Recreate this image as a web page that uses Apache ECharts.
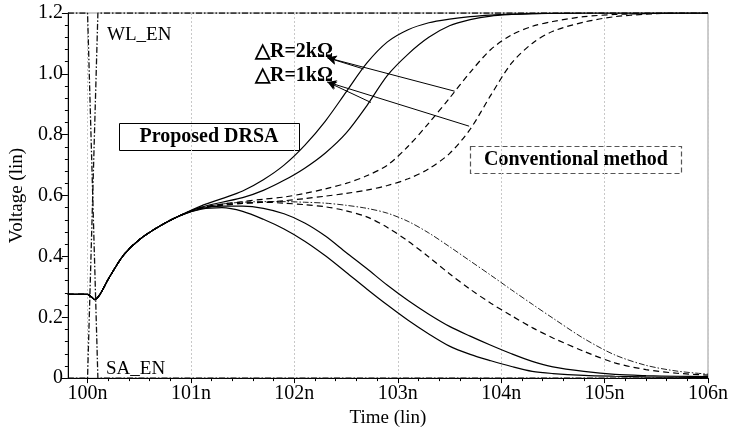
<!DOCTYPE html>
<html>
<head>
<meta charset="utf-8">
<script src="https://cdn.jsdelivr.net/npm/echarts@6/dist/echarts.min.js"></script>
<style>
  html, body { margin: 0; padding: 0; background: #fff; }
  #chart { width: 731px; height: 433px; }
</style>
</head>
<body>
<div id="chart"></div>
<script>
// time axis (ns) - shared part before the bitlines split
var commonT = [99.81, 100.0, 100.04, 100.07, 100.12, 100.2, 100.35, 100.5, 100.7, 100.9];
var commonV = [0.275, 0.275, 0.266, 0.258, 0.275, 0.325, 0.405, 0.455, 0.50, 0.535];

// after the split
var splitT = [101.1, 101.3, 101.5, 101.7, 101.9, 102.1, 102.3, 102.5, 102.7, 102.9, 103.1, 103.3,
  103.5, 103.7, 103.9, 104.1, 104.3, 104.5, 104.8, 105.1, 105.4, 105.7, 106.0];

// proposed DRSA (solid)
var drsaHigh2k = [0.566, 0.59, 0.615, 0.652, 0.70, 0.765, 0.845, 0.94, 1.035, 1.105, 1.145, 1.168, 1.18, 1.188, 1.193, 1.196, 1.198, 1.199, 1.2, 1.2, 1.2, 1.2, 1.2];
var drsaHigh1k = [0.562, 0.578, 0.593, 0.617, 0.65, 0.69, 0.74, 0.805, 0.895, 0.995, 1.065, 1.12, 1.158, 1.178, 1.19, 1.195, 1.198, 1.199, 1.2, 1.2, 1.2, 1.2, 1.2];
var drsaLow2k = [0.555, 0.56, 0.548, 0.522, 0.49, 0.45, 0.402, 0.348, 0.293, 0.24, 0.19, 0.145, 0.105, 0.078, 0.057, 0.038, 0.022, 0.015, 0.009, 0.006, 0.004, 0.003, 0.002];
var drsaLow1k = [0.557, 0.565, 0.565, 0.558, 0.54, 0.51, 0.467, 0.413, 0.36, 0.305, 0.255, 0.21, 0.17, 0.138, 0.108, 0.08, 0.055, 0.037, 0.022, 0.012, 0.008, 0.006, 0.005];

// conventional method (dashed / dash-dot)
var convHigh2k = [0.56, 0.572, 0.58, 0.588, 0.595, 0.607, 0.622, 0.64, 0.665, 0.70, 0.762, 0.838, 0.92, 1.005, 1.08, 1.128, 1.156, 1.172, 1.188, 1.195, 1.198, 1.2, 1.2];
var convHigh1k = [0.559, 0.568, 0.574, 0.578, 0.583, 0.59, 0.598, 0.607, 0.618, 0.633, 0.655, 0.688, 0.738, 0.818, 0.93, 1.035, 1.10, 1.14, 1.17, 1.188, 1.196, 1.2, 1.2];
var convLow2k = [0.559, 0.57, 0.575, 0.578, 0.575, 0.57, 0.563, 0.55, 0.53, 0.495, 0.45, 0.398, 0.343, 0.292, 0.246, 0.205, 0.166, 0.132, 0.088, 0.05, 0.028, 0.016, 0.01];
var convLow1k = [0.559, 0.572, 0.578, 0.58, 0.58, 0.578, 0.575, 0.568, 0.558, 0.542, 0.515, 0.477, 0.432, 0.385, 0.338, 0.29, 0.243, 0.197, 0.13, 0.076, 0.042, 0.023, 0.013];

// enable signals
var enableT = [99.81, 100.0, 100.1, 106.0];
var wlEn = [1.2, 1.2, 0, 0];
var saEn = [0, 0, 1.2, 1.2];

// ticks
var timeTicks = [100, 101, 102, 103, 104, 105, 106];

var minorTimeTicks = [];
for (var i = 0; i < timeTicks.length - 1; i++) {
  for (var k = 1; k < 5; k++) minorTimeTicks.push(+(timeTicks[i] + k * 0.2).toFixed(1));
}

function zip(ts, vs) {
  return ts.map(function (t, j) { return [t, vs[j]]; });
}
function bitline(vals) {
  return zip(commonT.concat(splitT), commonV.concat(vals));
}

var serif = '"Liberation Serif", "Times New Roman", serif';
var solid = { color: '#000', width: 1.2, type: 'solid' };
var dashed = { color: '#000', width: 1.2, type: [6, 4] };
var dashDot = { color: '#222', width: 1, type: [6, 2, 1.5, 2] };
var enableStyle = { color: '#111', width: 1.3, type: [6, 2, 1.5, 2] };

function curve(name, vals, style, extra) {
  var s = {
    name: name, type: 'line', data: bitline(vals), showSymbol: false, symbol: 'none',
    smooth: 0.3, lineStyle: style, silent: true, animation: false
  };
  if (extra) for (var key in extra) s[key] = extra[key];
  return s;
}

var arrowLines = {
  silent: true, symbol: ['none', 'arrow'], symbolSize: [7, 9],
  lineStyle: { color: '#000', width: 1, type: 'solid' },
  label: { show: false },
  data: [
    [{ coord: [103.55, 0.943] }, { coord: [102.32, 1.053] }],
    [{ coord: [102.67, 1.016] }, { coord: [102.32, 1.053] }],
    [{ coord: [103.69, 0.828] }, { coord: [102.32, 0.973] }],
    [{ coord: [102.74, 0.906] }, { coord: [102.32, 0.973] }]
  ]
};

var chart = echarts.init(document.getElementById('chart'), null, { renderer: 'canvas' });

chart.setOption({
  animation: false,
  backgroundColor: '#fff',
  grid: { left: 67, right: 20, top: 13, bottom: 47, show: true, borderColor: '#999', borderWidth: 1 },
  xAxis: [{
    type: 'value', min: 99.81, max: 106,
    name: 'Time (lin)', nameLocation: 'middle', nameGap: 25,
    nameTextStyle: { fontFamily: serif, fontSize: 19, color: '#000' },
    axisLine: { show: true, lineStyle: { color: '#000', width: 1 } },
    axisTick: { show: true, customValues: timeTicks, length: 5, lineStyle: { color: '#000' } },
    axisLabel: { customValues: timeTicks, margin: 6, fontFamily: serif, fontSize: 20, color: '#000',
      formatter: function (v) { return Math.round(v) + 'n'; } },
    splitLine: { show: true, lineStyle: { color: '#c8c8c8', type: [2, 2], width: 1 } }
  }, {
    type: 'value', min: 99.81, max: 106, position: 'bottom',
    axisLine: { show: false },
    axisTick: { show: true, customValues: minorTimeTicks, length: 3, lineStyle: { color: '#000' } },
    axisLabel: { show: false },
    splitLine: { show: false }
  }],
  yAxis: {
    type: 'value', min: 0, max: 1.2, interval: 0.2,
    name: 'Voltage (lin)', nameLocation: 'middle', nameGap: 31,
    nameTextStyle: { fontFamily: serif, fontSize: 19, color: '#000' },
    axisLine: { show: true, lineStyle: { color: '#000', width: 1 } },
    axisTick: { show: true, length: 6, lineStyle: { color: '#000' } },
    minorTick: { show: true, splitNumber: 5, length: 3, lineStyle: { color: '#000' } },
    axisLabel: { margin: 5, fontFamily: serif, fontSize: 20, color: '#000',
      formatter: function (v) { return v === 0 ? '0' : v.toFixed(1); } },
    splitLine: { show: false }
  },
  series: [
    { name: 'WL_EN', type: 'line', data: zip(enableT, wlEn), symbol: 'none', lineStyle: enableStyle, silent: true },
    { name: 'SA_EN', type: 'line', data: zip(enableT, saEn), symbol: 'none', lineStyle: enableStyle, silent: true },
    curve('conv low 1k', convLow1k, dashDot),
    curve('conv low 2k', convLow2k, dashed),
    curve('conv high 1k', convHigh1k, dashed),
    curve('conv high 2k', convHigh2k, dashed),
    curve('drsa low 1k', drsaLow1k, solid),
    curve('drsa low 2k', drsaLow2k, solid),
    curve('drsa high 1k', drsaHigh1k, solid),
    curve('drsa high 2k', drsaHigh2k, solid, { markLine: arrowLines })
  ],
  graphic: [
    { type: 'text', x: 107, y: 35, style: { text: 'WL_EN', font: '19px ' + serif, fill: '#000', textVerticalAlign: 'middle' } },
    { type: 'text', x: 106, y: 369, style: { text: 'SA_EN', font: '19px ' + serif, fill: '#000', textVerticalAlign: 'middle' } },
    { type: 'text', x: 255, y: 52, style: { text: '△R=2kΩ', font: 'bold 20px ' + serif, fill: '#000', textVerticalAlign: 'middle' } },
    { type: 'text', x: 255, y: 76, style: { text: '△R=1kΩ', font: 'bold 20px ' + serif, fill: '#000', textVerticalAlign: 'middle' } },
    { type: 'rect', shape: { x: 119.5, y: 123.5, width: 180, height: 27 }, style: { fill: '#fff', stroke: '#000', lineWidth: 1 } },
    { type: 'text', x: 209, y: 137, style: { text: 'Proposed DRSA', font: 'bold 20px ' + serif, fill: '#000', textAlign: 'center', textVerticalAlign: 'middle' } },
    { type: 'rect', shape: { x: 470.5, y: 146.5, width: 211, height: 27 }, style: { fill: '#fff', stroke: '#555', lineWidth: 1.2, lineDash: [5, 3] } },
    { type: 'text', x: 576, y: 160, style: { text: 'Conventional method', font: 'bold 20px ' + serif, fill: '#000', textAlign: 'center', textVerticalAlign: 'middle' } }
  ]
});
</script>
</body>
</html>
